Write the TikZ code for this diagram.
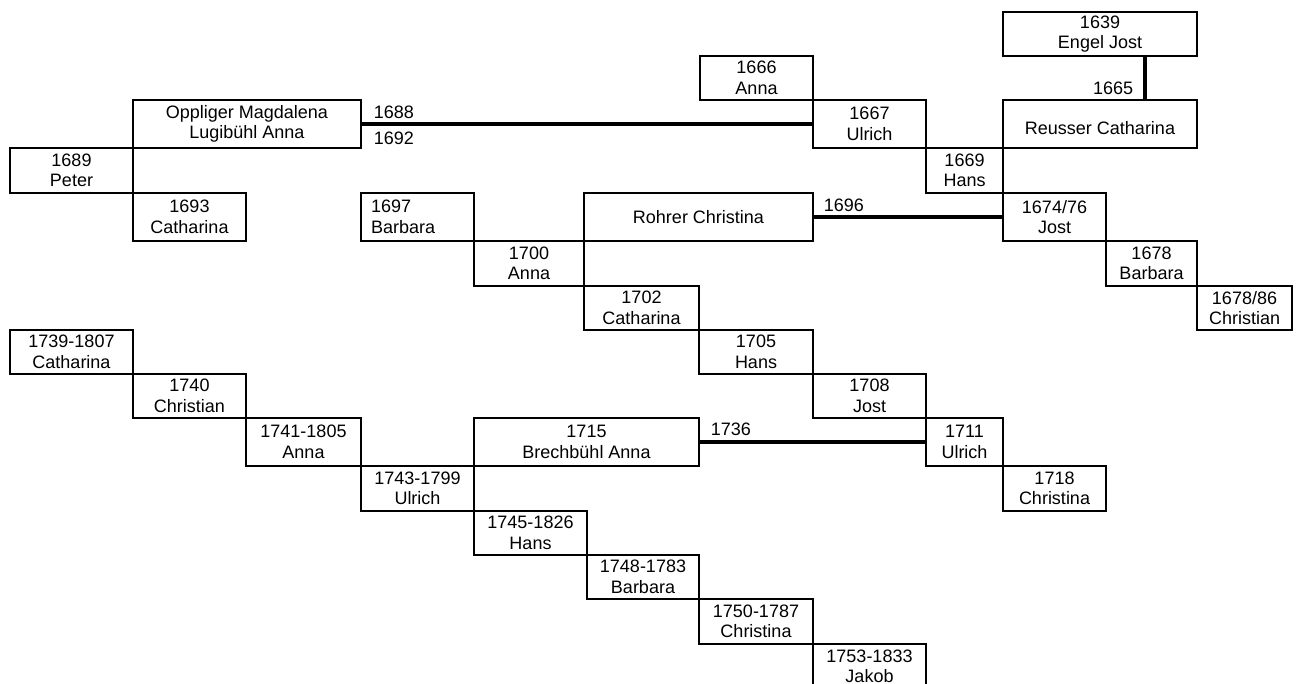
\documentclass[tikz,border=0pt]{standalone}
\usepackage{fontspec}
\setmainfont{Liberation Sans}
\usetikzlibrary{calc}
\tikzset{
  famnode/.style={draw, line width=1.5pt, inner sep=0pt, outer sep=0pt, align=center,
    anchor=north west, font=\fontsize{18}{20.5}\selectfont},
  tie/.style={line width=3.6pt},
  yearlbl/.style={inner sep=0pt, font=\fontsize{18}{20.5}\selectfont},
}
\begin{document}
\begin{tikzpicture}[x=1pt,y=-1pt]
\useasboundingbox (0,0) rectangle (1300,684);
\clip (0,0) rectangle (1300,684);
\fill[white] (0,0) rectangle (1300,684);
% row 0-1
\node[famnode, minimum width=194pt, minimum height=44pt] (engel) at (1003,12) {1639\\Engel Jost};
\node[famnode, minimum width=113pt, minimum height=44pt] (anna1666) at (700,56) {1666\\Anna};
% row 2
\node[famnode, minimum width=228pt, minimum height=48pt] (oppliger) at (133,100) {Oppliger Magdalena\\Lugibühl Anna};
\node[famnode, minimum width=113pt, minimum height=48pt] (ulrich1667) at (813,100) {1667\\Ulrich};
\node[famnode, minimum width=194pt, minimum height=48pt] (reusser) at (1003,100) {\mbox{}\\Reusser Catharina};
% row 3
\node[famnode, minimum width=123pt, minimum height=45pt] (peter) at (10,148) {1689\\Peter};
\node[famnode, minimum width=77pt, minimum height=45pt] (hans1669) at (926,148) {1669\\Hans};
% row 4
\node[famnode, minimum width=113pt, minimum height=48pt] (cath1693) at (133,193) {1693\\Catharina};
\node[famnode, text width=93pt, align=left, inner xsep=10pt, minimum height=48pt] (barb1697) at (361,193) {1697\\Barbara};
\node[famnode, minimum width=229pt, minimum height=48pt] (rohrer) at (584,193) {Rohrer Christina};
\node[famnode, minimum width=103pt, minimum height=48pt] (jost1674) at (1003,193) {1674/76\\Jost};
% row 5
\node[famnode, minimum width=110pt, minimum height=45pt] (anna1700) at (474,241) {1700\\Anna};
\node[famnode, minimum width=91pt, minimum height=45pt] (barb1678) at (1106,241) {1678\\Barbara};
% row 6
\node[famnode, minimum width=115pt, minimum height=44pt] (cath1702) at (584,286) {1702\\Catharina};
\node[famnode, minimum width=95pt, minimum height=44pt] (chris1678) at (1197,286) {1678/86\\Christian};
% row 7
\node[famnode, minimum width=123pt, minimum height=44pt] (cath1739) at (10,330) {1739-1807\\Catharina};
\node[famnode, minimum width=114pt, minimum height=44pt] (hans1705) at (699,330) {1705\\Hans};
% row 8
\node[famnode, minimum width=113pt, minimum height=44pt] (chris1740) at (133,374) {1740\\Christian};
\node[famnode, minimum width=113pt, minimum height=44pt] (jost1708) at (813,374) {1708\\Jost};
% row 9
\node[famnode, minimum width=115pt, minimum height=48pt] (anna1741) at (246,418) {1741-1805\\Anna};
\node[famnode, minimum width=225pt, minimum height=48pt] (brech) at (474,418) {1715\\Brechbühl Anna};
\node[famnode, minimum width=77pt, minimum height=48pt] (ulrich1711) at (926,418) {1711\\Ulrich};
% row 10
\node[famnode, minimum width=113pt, minimum height=45pt] (ulrich1743) at (361,466) {1743-1799\\Ulrich};
\node[famnode, minimum width=103pt, minimum height=45pt] (chr1718) at (1003,466) {1718\\Christina};
% rows 11-14
\node[famnode, minimum width=113pt, minimum height=44pt] (hans1745) at (474,511) {1745-1826\\Hans};
\node[famnode, minimum width=112pt, minimum height=44pt] (barb1748) at (587,555) {1748-1783\\Barbara};
\node[famnode, minimum width=114pt, minimum height=45pt] (chr1750) at (699,599) {1750-1787\\Christina};
\node[famnode, minimum width=113pt, minimum height=45pt] (jakob) at (813,644) {1753-1833\\Jakob};
% marriages
\draw[tie] (oppliger.east) -- (ulrich1667.west)
  node[yearlbl, pos=0, anchor=west, xshift=11pt, yshift=12pt] {1688}
  node[yearlbl, pos=0, anchor=west, xshift=11pt, yshift=-14pt] {1692};
\draw[tie] (rohrer.east) -- (jost1674.west)
  node[yearlbl, pos=0, anchor=west, xshift=9pt, yshift=12pt] {1696};
\draw[tie] (brech.east) -- (ulrich1711.west)
  node[yearlbl, pos=0, anchor=west, xshift=10pt, yshift=13pt] {1736};
\coordinate (ej) at ($(engel.south west)!0.732!(engel.south east)$);
\draw[tie] (ej) -- (ej |- reusser.north)
  node[yearlbl, pos=1, anchor=east, xshift=-10pt, yshift=12pt] {1665};
\end{tikzpicture}
\end{document}
